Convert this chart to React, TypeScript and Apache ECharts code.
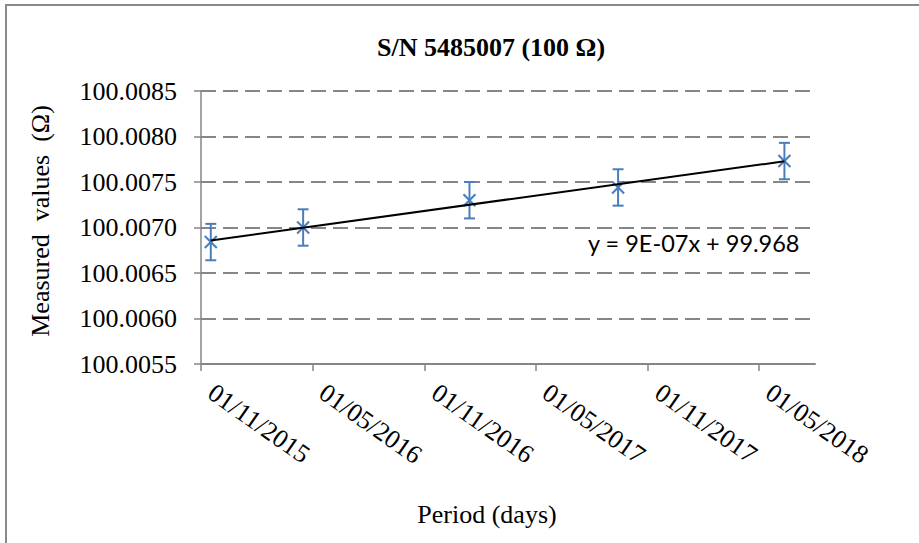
import React, { useEffect, useRef } from 'react';
import * as echarts from 'echarts';

// ---- data ----
const pointDates = ['2015-11-17', '2016-04-16', '2017-01-13', '2017-09-13', '2018-06-12'];
const measuredValues = [100.00684, 100.007, 100.0073, 100.00744, 100.00773];
const uncertainties = [0.0002, 0.0002, 0.0002, 0.0002, 0.0002];
const xTickDates = ['2015-11-01', '2016-05-01', '2016-11-01', '2017-05-01', '2017-11-01', '2018-05-01'];
const xTickLabels = ['01/11/2015', '01/05/2016', '01/11/2016', '01/05/2017', '01/11/2017', '01/05/2018'];
const xAxisEndDate = '2018-08-01';
const yMin = 100.0055;
const yMax = 100.0085;
const yStep = 0.0005;
const titleText = 'S/N 5485007 (100 Ω)';
const yAxisTitle = 'Measured  values  (Ω)';
const xAxisTitle = 'Period (days)';
const trendLabel = 'y = 9E-07x + 99.968';

const BLUE = '#4A7EBB';
const GREY = '#868686';
const SERIF = '"Liberation Serif", "Times New Roman", serif';

function serial(iso: string): number {
  const [y, m, d] = iso.split('-').map(Number);
  return Math.round((Date.UTC(y, m - 1, d) - Date.UTC(1899, 11, 30)) / 86400000);
}

export default function App() {
  const ref = useRef<HTMLDivElement>(null);

  useEffect(() => {
    if (!ref.current) return;
    const chart = echarts.init(ref.current, undefined, { renderer: 'svg' });

    const xs = pointDates.map(serial);
    const ticks = xTickDates.map(serial);
    const pts = xs.map((x, i) => [x, measuredValues[i], uncertainties[i]]);

    // least-squares linear trendline
    const n = xs.length;
    const mx = xs.reduce((a, b) => a + b, 0) / n;
    const my = measuredValues.reduce((a, b) => a + b, 0) / n;
    let sxy = 0;
    let sxx = 0;
    xs.forEach((x, i) => {
      sxy += (x - mx) * (measuredValues[i] - my);
      sxx += (x - mx) * (x - mx);
    });
    const slope = sxy / sxx;
    const icpt = my - slope * mx;
    const x0 = Math.min(...xs);
    const x1 = Math.max(...xs);
    const trend = [
      [x0, icpt + slope * x0],
      [x1, icpt + slope * x1],
    ];

    chart.setOption({
      animation: false,
      backgroundColor: '#ffffff',
      grid: { left: 201, top: 91, width: 614, height: 273, containLabel: false },
      xAxis: {
        type: 'value',
        min: serial(xTickDates[0]),
        max: serial(xAxisEndDate),
        axisLine: { show: true, onZero: false, lineStyle: { color: GREY, width: 2 } },
        axisTick: { show: true, length: 7, customValues: ticks, lineStyle: { color: GREY, width: 1.5 } },
        axisLabel: {
          customValues: ticks,
          rotate: -35,
          margin: 19,
          padding: [0, 0, 0, 12],
          fontFamily: SERIF,
          fontSize: 26,
          color: '#000',
          formatter: (v: number) => {
            const i = ticks.indexOf(Math.round(v));
            return i >= 0 ? xTickLabels[i] : '';
          },
        },
        splitLine: { show: false },
      },
      yAxis: {
        type: 'value',
        min: yMin,
        max: yMax,
        interval: yStep,
        axisLine: { show: true, lineStyle: { color: GREY, width: 1.5 } },
        axisTick: { show: true, length: 7, lineStyle: { color: GREY, width: 1.5 } },
        axisLabel: {
          margin: 24,
          fontFamily: SERIF,
          fontSize: 26,
          color: '#000',
          formatter: (v: number) => v.toFixed(4),
        },
        splitLine: { show: true, lineStyle: { color: GREY, width: 2, type: [15, 7] } },
      },
      graphic: [
        {
          type: 'rect',
          shape: { x: 6, y: 5, width: 1200, height: 1200 },
          style: { fill: 'none', stroke: '#8a8a8a', lineWidth: 2 },
          silent: true,
          z: 0,
        },
        {
          type: 'text',
          x: 491,
          y: 47,
          style: {
            text: titleText,
            fontFamily: SERIF,
            fontWeight: 'bold',
            fontSize: 26,
            fill: '#000',
            textAlign: 'center',
            textVerticalAlign: 'middle',
          },
        },
        {
          type: 'text',
          x: 40,
          y: 221,
          rotation: Math.PI / 2,
          style: {
            text: yAxisTitle,
            fontFamily: SERIF,
            fontSize: 26,
            fill: '#000',
            textAlign: 'center',
            textVerticalAlign: 'middle',
          },
        },
        {
          type: 'text',
          x: 487,
          y: 514,
          style: {
            text: xAxisTitle,
            fontFamily: SERIF,
            fontSize: 26,
            fill: '#000',
            textAlign: 'center',
            textVerticalAlign: 'middle',
          },
        },
        {
          type: 'text',
          x: 588,
          y: 243,
          style: {
            text: trendLabel,
            fontFamily: 'Lato, "Liberation Sans", sans-serif',
            fontSize: 23.5,
            fill: '#000',
            textAlign: 'left',
            textVerticalAlign: 'middle',
          },
          z: 100,
        },
      ],
      series: [
        {
          type: 'custom',
          name: 'Measured',
          data: pts,
          z: 3,
          renderItem: (params: any, api: any) => {
            const x = api.value(0);
            const y = api.value(1);
            const e = api.value(2);
            const c = api.coord([x, y]);
            const top = api.coord([x, y + e]);
            const bot = api.coord([x, y - e]);
            const cap = 5.5;
            const m = 6;
            const st = { stroke: BLUE, lineWidth: 2, fill: 'none' };
            return {
              type: 'group',
              children: [
                { type: 'line', shape: { x1: c[0], y1: top[1], x2: c[0], y2: bot[1] }, style: st },
                { type: 'line', shape: { x1: c[0] - cap, y1: top[1], x2: c[0] + cap, y2: top[1] }, style: st },
                { type: 'line', shape: { x1: c[0] - cap, y1: bot[1], x2: c[0] + cap, y2: bot[1] }, style: st },
                { type: 'line', shape: { x1: c[0] - m, y1: c[1] - m, x2: c[0] + m, y2: c[1] + m }, style: st },
                { type: 'line', shape: { x1: c[0] - m, y1: c[1] + m, x2: c[0] + m, y2: c[1] - m }, style: st },
              ],
            };
          },
        },
        {
          type: 'line',
          name: 'Trend',
          data: trend,
          symbol: 'none',
          z: 4,
          lineStyle: { color: '#000', width: 2 },
        },
      ],
    });

    return () => chart.dispose();
  }, []);

  return (
    <div
      ref={ref}
      style={{ position: 'fixed', left: 0, top: 0, width: 919, height: 543, background: '#fff' }}
    />
  );
}
